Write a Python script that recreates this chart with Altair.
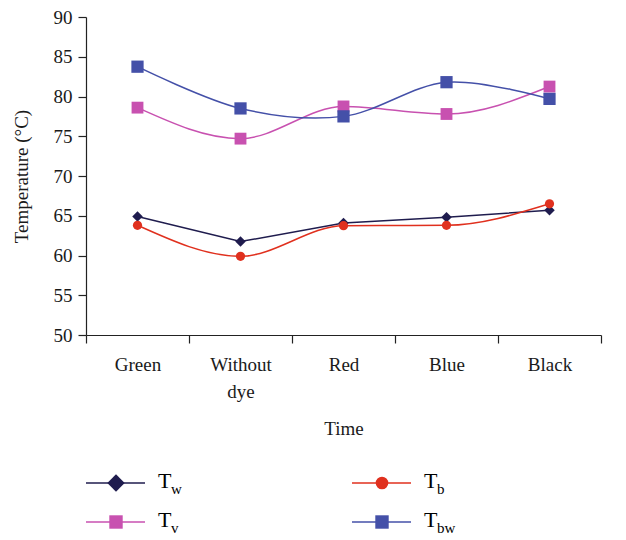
import altair as alt
import pandas as pd

categories = ["Green", "Without dye", "Red", "Blue", "Black"]
series_names = ["Tw", "Tb", "Tv", "Tbw"]
tw = [64.9, 61.75, 64.1, 64.8, 65.7]
tb = [63.8, 59.9, 63.75, 63.8, 66.5]
tv = [78.6, 74.7, 78.75, 77.8, 81.25]
tbw = [83.75, 78.5, 77.5, 81.8, 79.7]
y_ticks = [50, 55, 60, 65, 70, 75, 80, 85, 90]

FONT = "Liberation Serif"

styles = {
    "Tw": dict(color="#1f1c4e", shape="diamond", size=110, interp="linear", sub="w"),
    "Tb": dict(color="#e0301e", shape="circle", size=85, interp="monotone", sub="b"),
    "Tv": dict(color="#c851b0", shape="square", size=140, interp="monotone", sub="v"),
    "Tbw": dict(color="#4450a8", shape="square", size=150, interp="cardinal", sub="bw"),
}
values = {"Tw": tw, "Tb": tb, "Tv": tv, "Tbw": tbw}

x_enc = alt.X(
    "cat:N",
    sort=categories,
    scale=alt.Scale(type="band", domain=categories, paddingInner=0, paddingOuter=0),
    bandPosition=0.5,
    axis=alt.Axis(
        title="Time",
        labelExpr="datum.value == 'Without dye' ? ['Without', 'dye'] : datum.value",
        tickBand="extent",
        labelLineHeight=27,
        labelPadding=12,
        titlePadding=18,
        labelAngle=0,
    ),
)
y_enc = alt.Y(
    "v:Q",
    scale=alt.Scale(domain=[50, 90], nice=False, zero=False),
    axis=alt.Axis(values=y_ticks, title="Temperature (°C)", titlePadding=22, labelPadding=6),
)

layers = []
for name in series_names:
    st = values[name]
    df = pd.DataFrame({"cat": categories, "v": st})
    s = styles[name]
    base = alt.Chart(df)
    line = base.mark_line(color=s["color"], strokeWidth=1.5, interpolate=s["interp"]).encode(x=x_enc, y=y_enc)
    pts = base.mark_point(color=s["color"], shape=s["shape"], size=s["size"], filled=True, opacity=1).encode(x=x_enc, y=y_enc)
    layers += [line, pts]

# manual legend (subscripted labels)
one = pd.DataFrame({"a": [0]})
legend_pos = {"Tw": (0, 466), "Tb": (266, 466), "Tv": (0, 505), "Tbw": (266, 505)}
legend_size = {"Tw": 300, "Tb": 160, "Tv": 180, "Tbw": 180}
for name in series_names:
    x0, y0 = legend_pos[name]
    s = styles[name]
    lb = alt.Chart(one)
    layers.append(lb.mark_rule(color=s["color"], strokeWidth=1.5).encode(
        x=alt.value(x0), x2=alt.value(x0 + 59), y=alt.value(y0)))
    layers.append(lb.mark_point(color=s["color"], shape=s["shape"], size=legend_size[name], filled=True, opacity=1).encode(
        x=alt.value(x0 + 30), y=alt.value(y0)))
    layers.append(lb.mark_text(font=FONT, fontSize=22, align="left", baseline="alphabetic", color="black").encode(
        x=alt.value(x0 + 72), y=alt.value(y0 + 5), text=alt.value("T")))
    layers.append(lb.mark_text(font=FONT, fontSize=15, align="left", baseline="alphabetic", color="black").encode(
        x=alt.value(x0 + 85), y=alt.value(y0 + 11), text=alt.value(s["sub"])))

chart = alt.layer(*layers).properties(
    width=515,
    height=318,
    padding={"left": 78, "top": 9, "right": 17, "bottom": 205},
    autosize=alt.AutoSizeParams(type="none"),
).configure_view(stroke=None).configure_axis(
    grid=False,
    labelFont=FONT,
    labelFontSize=19,
    labelColor="#1a1a1a",
    titleFont=FONT,
    titleFontSize=19,
    titleFontWeight="normal",
    titleColor="#1a1a1a",
    domainColor="#222222",
    tickColor="#222222",
    tickSize=8,
    domainWidth=1.2,
    tickWidth=1.2,
)

chart.save("out.html", embed_options={"renderer": "svg", "actions": False})
